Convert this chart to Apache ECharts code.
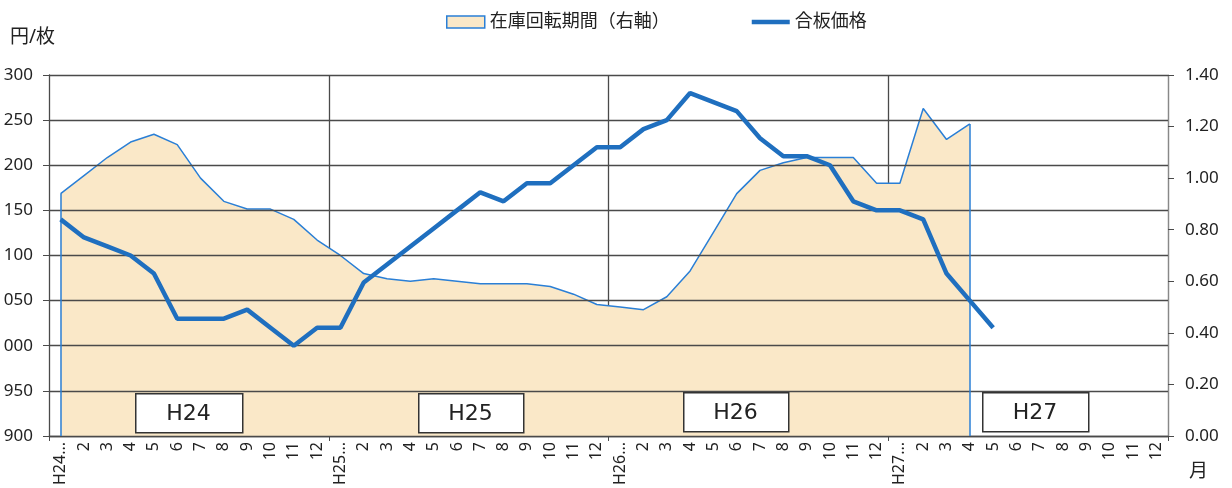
<!DOCTYPE html>
<html>
<head>
<meta charset="utf-8">
<script src="https://cdn.jsdelivr.net/npm/echarts@6/dist/echarts.min.js"></script>
<style>
  html, body { margin: 0; padding: 0; background: #fff; }
  #chart { width: 1232px; height: 488px; }
</style>
</head>
<body>
<div id="chart"></div>
<script>
// 横軸のカテゴリ（H24.1 〜 H27.12）
const years = ["H24", "H25", "H26", "H27"];
const months = ["2", "3", "4", "5", "6", "7", "8", "9", "10", "11", "12"];
const categories = [];
years.forEach((y) => {
  categories.push(y + "...");
  months.forEach((m) => categories.push(m));
});

// 合板価格（左軸 円/枚）
const priceValues = [
  1140, 1120, 1110, 1100, 1080, 1030, 1030, 1030, 1040, 1020, 1000, 1020,
  1020, 1070, 1090, 1110, 1130, 1150, 1170, 1160, 1180, 1180, 1200, 1220,
  1220, 1240, 1250, 1280, 1270, 1260, 1230, 1210, 1210, 1200, 1160, 1150,
  1150, 1140, 1080, 1050, 1020, null, null, null, null, null, null, null,
];

// 在庫回転期間（右軸）
const stockValues = [
  0.94, 1.01, 1.08, 1.14, 1.17, 1.13, 1.00, 0.91, 0.88, 0.88, 0.84, 0.76,
  0.70, 0.63, 0.61, 0.60, 0.61, 0.60, 0.59, 0.59, 0.59, 0.58, 0.55, 0.51,
  0.50, 0.49, 0.54, 0.64, 0.79, 0.94, 1.03, 1.06, 1.08, 1.08, 1.08, 0.98,
  0.98, 1.27, 1.15, 1.21, null, null, null, null, null, null, null, null,
];

const leftTicks = { min: 900, max: 1300, step: 50 };
const rightTicks = { min: 0, max: 1.4, step: 0.2 };
const yearBoxes = ["H24", "H25", "H26", "H27"];

const stockName = "在庫回転期間（右軸）";
const priceName = "合板価格";
const blueThin = "#2a7fd6";
const blueThick = "#1f6fbf";
const fillColor = "#fae8c8";
const gridColor = "#4a4a4a";
const textColor = "#222222";
const font = "'Noto Sans', 'Noto Sans CJK JP', sans-serif";

// 最後の在庫データの位置
let lastStock = 0;
stockValues.forEach((v, i) => { if (v !== null) lastStock = i; });

const chart = echarts.init(document.getElementById("chart"), null, { renderer: "canvas" });

// 年ごとのラベル枠（注記）
const boxPos = [
  { x: 135, y: 393, w: 107 },
  { x: 418, y: 393, w: 105 },
  { x: 683, y: 392, w: 105 },
  { x: 982, y: 392, w: 106 },
];
const graphics = [];
yearBoxes.forEach((name, i) => {
  const p = boxPos[i];
  graphics.push({
    type: "rect",
    left: p.x, top: p.y, z: 10,
    shape: { width: p.w, height: 39 },
    style: { fill: "#fff", stroke: "#333", lineWidth: 1.5 },
  });
  graphics.push({
    type: "text",
    x: p.x + p.w / 2, y: p.y + 21, z: 11,
    style: {
      text: name, fill: textColor, fontSize: 22, fontFamily: "'DejaVu Sans', sans-serif",
      align: "center", verticalAlign: "middle",
    },
  });
});
graphics.push({
  type: "text", left: 10, top: 28,
  style: { text: "円/枚", fill: textColor, fontSize: 19, fontFamily: font },
});
graphics.push({
  type: "text", left: 1189, top: 462,
  style: { text: "月", fill: textColor, fontSize: 19, fontFamily: font },
});

const option = {
  animation: false,
  textStyle: { fontFamily: font },
  grid: { left: 49, right: 64, top: 75, bottom: 51 },
  legend: {
    left: 441,
    top: 8,
    itemWidth: 38,
    itemHeight: 12,
    itemGap: 82,
    textStyle: { fontSize: 18, color: textColor, fontFamily: font },
    data: [
      {
        name: stockName,
        icon: "rect",
        itemStyle: { color: fillColor, borderColor: blueThin, borderWidth: 1.5 },
      },
      {
        name: priceName,
        icon: "path://M0,0 L40,0 L40,4.5 L0,4.5 Z",
        itemStyle: { color: blueThick },
      },
    ],
  },
  xAxis: {
    type: "category",
    data: categories,
    boundaryGap: true,
    axisLine: { lineStyle: { color: gridColor, width: 1.3 } },
    axisTick: {
      show: true,
      length: 5,
      interval: (i) => i % 12 === 0,
      lineStyle: { color: gridColor },
    },
    axisLabel: {
      interval: 0,
      rotate: 90,
      margin: 6,
      fontSize: 16,
      color: textColor,
    },
    splitLine: {
      show: true,
      interval: (i) => i % 12 === 0 && i > 0,
      lineStyle: { color: gridColor, width: 1.3 },
    },
  },
  yAxis: [
    {
      type: "value",
      min: leftTicks.min,
      max: leftTicks.max,
      interval: leftTicks.step,
      z: 3,
      axisLine: { show: true, lineStyle: { color: gridColor, width: 1.3 } },
      axisTick: { show: true, length: 6, lineStyle: { color: gridColor } },
      axisLabel: {
        fontSize: 17,
        color: textColor,
        margin: 16,
        formatter: (v) => String(v).slice(-3),
      },
      splitLine: { show: true, lineStyle: { color: gridColor, width: 1.3 } },
    },
    {
      type: "value",
      min: rightTicks.min,
      max: rightTicks.max,
      interval: rightTicks.step,
      axisLine: { show: true, lineStyle: { color: "#888", width: 1 } },
      axisTick: { show: true, length: 6, lineStyle: { color: gridColor } },
      axisLabel: {
        fontSize: 17,
        color: textColor,
        margin: 17,
        formatter: (v) => v.toFixed(2),
      },
      splitLine: { show: false },
    },
  ],
  series: [
    {
      name: stockName,
      type: "line",
      yAxisIndex: 1,
      data: stockValues,
      symbol: "none",
      z: 2,
      lineStyle: { color: blueThin, width: 1.5 },
      itemStyle: { color: blueThin },
      areaStyle: { color: fillColor, opacity: 1 },
      // 面グラフの左右の縦線
      markLine: {
        silent: true,
        symbol: ["none", "none"],
        label: { show: false },
        lineStyle: { color: blueThin, width: 1.5, type: "solid" },
        data: [
          [{ coord: [categories[0], 0] }, { coord: [categories[0], stockValues[0]] }],
          [{ coord: [categories[lastStock], 0] }, { coord: [categories[lastStock], stockValues[lastStock]] }],
        ],
      },
    },
    {
      name: priceName,
      type: "line",
      yAxisIndex: 0,
      data: priceValues,
      symbol: "none",
      z: 5,
      lineStyle: { color: blueThick, width: 4.5 },
      itemStyle: { color: blueThick },
    },
  ],
  graphic: graphics,
};

chart.setOption(option);
</script>
</body>
</html>
